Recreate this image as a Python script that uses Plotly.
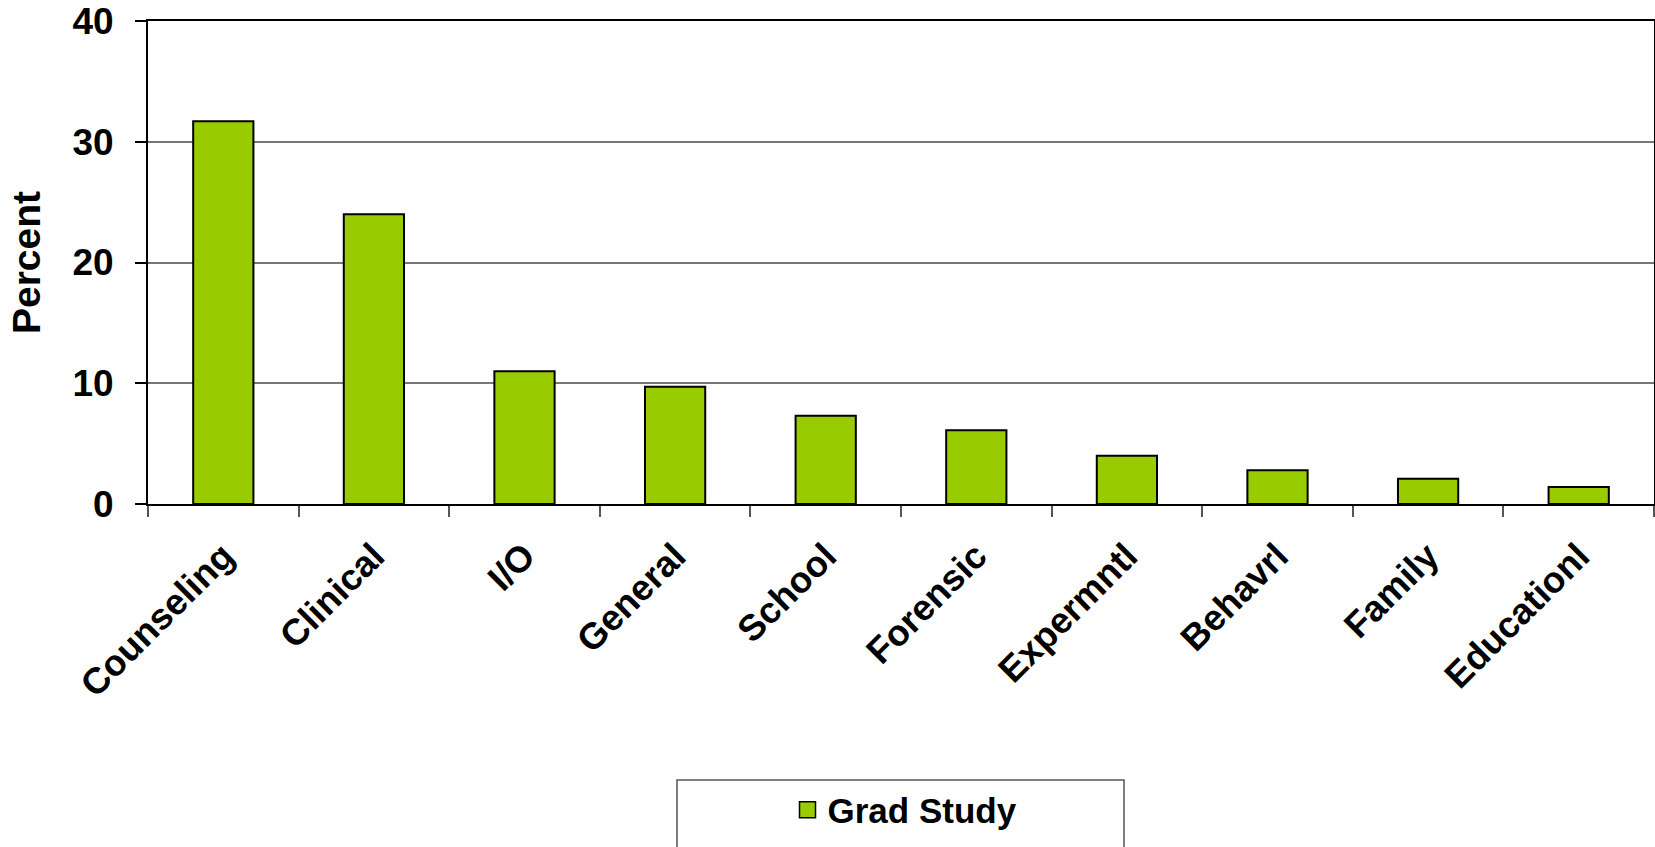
import plotly.graph_objects as go

categories = ["Counseling", "Clinical", "I/O", "General", "School", "Forensic",
              "Expermntl", "Behavrl", "Family", "Educationl"]
grad_study = [31.7, 24.0, 11.0, 9.7, 7.3, 6.1, 4.0, 2.8, 2.1, 1.4]
series_name = "Grad Study"
y_ticks = [0, 10, 20, 30, 40]

FONT = "Arial, Liberation Sans, sans-serif"
GREEN = "#99CC00"

fig = go.Figure()
fig.add_trace(go.Bar(
    x=categories, y=grad_study, name=series_name, showlegend=False,
    marker=dict(color=GREEN, line=dict(color="black", width=2)),
    width=0.4,
))
# legend entry (larger square symbol)
fig.add_trace(go.Scatter(
    x=[None], y=[None], mode="markers", name=series_name,
    marker=dict(symbol="square", size=18, color=GREEN,
                line=dict(color="black", width=1.5)),
))

L, T, R, B = 148, 21, 1, 343
W, H = 1655, 847
pw = W - L - R
ph = H - T - B

def px_x(x):
    return (x - L) / pw

def px_y(y):
    return (H - B - y) / ph

fig.update_layout(
    width=W, height=H,
    margin=dict(l=L, r=R, t=T, b=B, autoexpand=False),
    paper_bgcolor="white", plot_bgcolor="white",
    font=dict(family=FONT, color="black"),
    bargap=0.6,
    showlegend=True,
    legend=dict(
        orientation="h", x=px_x(905), xanchor="center",
        y=px_y(810), yanchor="middle",
        bgcolor="rgba(0,0,0,0)", borderwidth=0,
        font=dict(family=FONT, size=35, color="black", weight="bold"),
        itemwidth=30,
    ),
    shapes=[dict(
        type="rect", xref="paper", yref="paper",
        x0=px_x(677), x1=px_x(1124), y0=px_y(780), y1=px_y(900),
        line=dict(color="#555555", width=1.5), fillcolor="rgba(0,0,0,0)",
        layer="below",
    )],
)

fig.update_xaxes(
    type="category", range=[-0.5, 9.5],
    showline=True, linecolor="black", linewidth=2, mirror=True,
    ticks="outside", ticklen=11, tickcolor="#555555", tickwidth=1.5,
    tickson="boundaries",
    tickangle=-45,
    tickfont=dict(family=FONT, size=36.5, color="black", weight="bold"),
    ticklabelstandoff=14,
    showgrid=False, automargin=False,
)
fig.update_yaxes(
    range=[0, 40], tickvals=y_ticks,
    showline=True, linecolor="black", linewidth=2, mirror=True,
    ticks="outside", ticklen=11, tickcolor="black", tickwidth=1.5,
    tickfont=dict(family=FONT, size=37, color="black", weight="bold"),
    ticklabelstandoff=14,
    showgrid=True, gridcolor="#777777", gridwidth=1.5,
    zeroline=False, automargin=False,
    title=dict(text="Percent", standoff=20,
               font=dict(family=FONT, size=39, color="black", weight="bold")),
)

fig.write_html("out.html")
